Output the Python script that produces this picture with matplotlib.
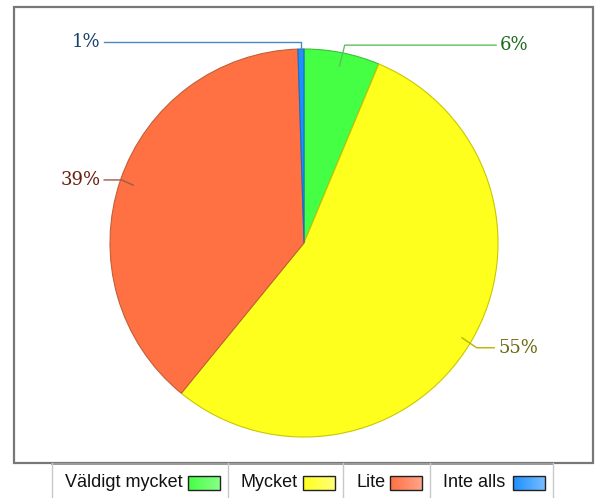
import numpy as np
import matplotlib
matplotlib.use('Agg')
import matplotlib.pyplot as plt
from matplotlib.patches import Rectangle
import matplotlib.colors as mcolors

# ── data ─────────────────────────────────────────────
categories = ['Väldigt mycket', 'Mycket', 'Lite', 'Inte alls']
shares     = [6.3, 54.6, 38.6, 0.5]
pct_labels = ['6%', '55%', '39%', '1%']

# ── style ────────────────────────────────────────────
FILL   = ['#44ff44', '#ffff1e', '#ff7043', '#1e8fff']
EDGE   = ['#3cbf3c', '#c8c800', '#c0603a', '#1670c0']
LIGHT  = ['#88ff88', '#ffff77', '#ffa588', '#77bdff']
TXTCOL = ['#1a6a1a', '#6a6a10', '#6a1e10', '#1a3f6a']
LINECOL = ['#5ec05e', '#b4b400', '#a05a4a', '#4a88c0']

W, H = 595, 498
fig = plt.figure(figsize=(W / 100, H / 100), dpi=100)
fig.patch.set_facecolor('white')

# pie axes: centre (304, 243) px, radius 194 px
cx, cy, R = 304, 243, 194
ax = fig.add_axes([(cx - R) / W, (H - cy - R) / H, 2 * R / W, 2 * R / H])
wedges, _ = ax.pie(shares, colors=FILL, startangle=90, counterclock=False,
                   radius=1.0, wedgeprops=dict(linewidth=0.8))
for w, ec in zip(wedges, EDGE):
    w.set_edgecolor(ec)
ax.set_xlim(-1, 1)
ax.set_ylim(-1, 1)
ax.set_aspect('equal')
ax.axis('off')

# label leader lines: (anchor radius, elbow, text position, ha)
leaders = [
    (0.93, (0.21, 1.02), (1.01, 1.02), 'left'),
    (0.95, (0.89, -0.54), (1.00, -0.54), 'left'),
    (0.93, (-0.94, 0.325), (-1.05, 0.325), 'right'),
    (0.97, None, (-1.05, 1.036), 'right'),
]
for w, lab, (r, elbow, tpos, ha), lc, tc in zip(wedges, pct_labels, leaders, LINECOL, TXTCOL):
    mid = np.deg2rad((w.theta1 + w.theta2) / 2)
    ax_, ay_ = r * np.cos(mid), r * np.sin(mid)
    if elbow is None:
        elbow = (ax_, tpos[1])
    xs = [ax_, elbow[0], tpos[0] + (-0.02 if ha == 'left' else 0.02)]
    ys = [ay_, elbow[1], tpos[1]]
    ax.plot(xs, ys, color=lc, lw=1.0, clip_on=False)
    ax.text(tpos[0], tpos[1], lab, ha=ha, va='center', color=tc,
            fontsize=13, family='DejaVu Serif', clip_on=False)

# overlay in pixel coordinates for frame + legend
ov = fig.add_axes([0, 0, 1, 1], zorder=-1)
ov.set_xlim(0, W)
ov.set_ylim(H, 0)
ov.axis('off')
ov.add_patch(Rectangle((13.5, 6.5), 579, 456, fill=False, ec='#777777', lw=1.6))

top = fig.add_axes([0, 0, 1, 1], zorder=5)
top.axis('off')
top.patch.set_alpha(0)

cells = [(52, 228), (228, 343), (343, 430), (430, 553)]
top.add_patch(Rectangle((52, 463), 501, 40, fc='white', ec='none', zorder=0.5))
top.plot([52, 553], [463.5, 463.5], color='#999999', lw=1.4, zorder=1)
for x0, x1 in cells:
    top.plot([x0, x0], [463, 498], color='#c8c8c8', lw=1.0, zorder=1)
top.plot([553, 553], [463, 498], color='#c8c8c8', lw=1.0, zorder=1)

for (x0, x1), name, c0, c1 in zip(cells, categories, FILL, LIGHT):
    top.text(x0 + 13, 482, name, ha='left', va='center', fontsize=13,
             family='Liberation Sans', color='#111111', zorder=3)
    sx0, sx1 = x1 - 40, x1 - 8
    grad = np.linspace(0, 1, 64)[None, :]
    cmap = mcolors.LinearSegmentedColormap.from_list('g', [c0, c1])
    top.imshow(grad, cmap=cmap, extent=(sx0, sx1, 490, 476), aspect='auto',
               interpolation='bilinear', zorder=2)
    top.add_patch(Rectangle((sx0, 476), sx1 - sx0, 14, fill=False,
                            ec='#222222', lw=1.0, zorder=3))
top.set_xlim(0, W)
top.set_ylim(H, 0)

fig.savefig('out.png', dpi=100, facecolor='white')
